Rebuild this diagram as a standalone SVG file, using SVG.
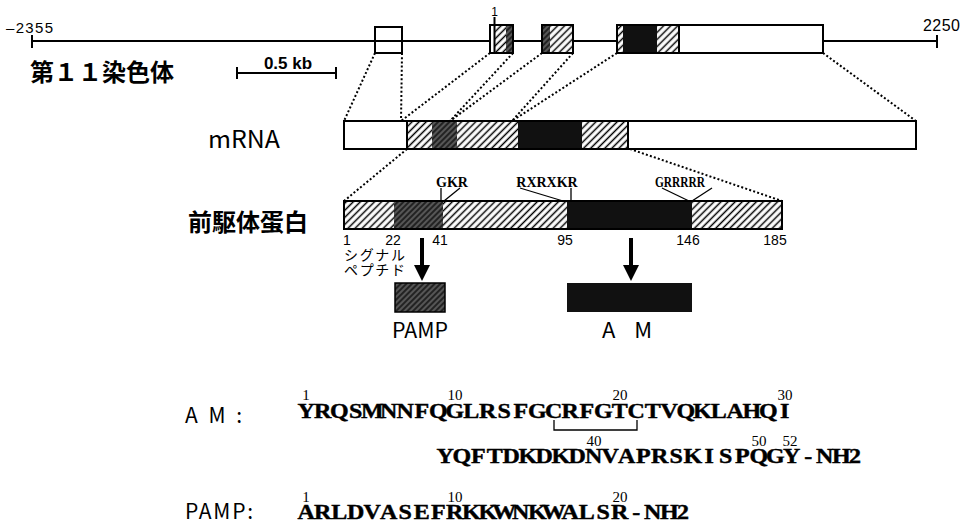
<svg xmlns="http://www.w3.org/2000/svg" width="962" height="525" viewBox="0 0 962 525">
<style>
.ln{stroke:#000;stroke-width:2;fill:none}
.box{stroke:#000;stroke-width:2;fill:none}
.dot{stroke:#000;stroke-width:2;fill:none;stroke-dasharray:2 2.2}
.thin{stroke:#000;stroke-width:1.3;fill:none}
.sans{font-family:"Liberation Sans",Arial,sans-serif;fill:#000}
.jp{font-family:"Noto Sans CJK JP","Noto Sans",sans-serif;fill:#000}
.seq{font-family:"Liberation Serif","Times New Roman",serif;font-weight:bold;font-size:20px;fill:#000;stroke:#000;stroke-width:0.4;text-anchor:middle}
.num{font-family:"Liberation Serif","Times New Roman",serif;font-size:15px;fill:#000;text-anchor:middle}
.pn{font-family:"Liberation Sans",Arial,sans-serif;font-size:14px;fill:#000;text-anchor:middle}
.site{font-family:"Liberation Serif","Times New Roman",serif;font-weight:bold;font-size:14px;fill:#000;text-anchor:middle}
</style>
<defs>
<pattern id="hatch" width="5" height="5" patternUnits="userSpaceOnUse" patternTransform="rotate(45)">
<rect width="5" height="5" fill="#fff"/>
<line x1="2.5" y1="0" x2="2.5" y2="5" stroke="#000" stroke-width="1.5"/>
</pattern>
<pattern id="dhatch" width="4" height="4" patternUnits="userSpaceOnUse" patternTransform="rotate(45)">
<rect width="4" height="4" fill="#222"/>
<line x1="2" y1="0" x2="2" y2="4" stroke="#8a8a8a" stroke-width="1"/>
</pattern>
</defs>
<rect width="962" height="525" fill="#fff"/>

<g id="chromosome">
<line class="ln" x1="32" y1="41" x2="937" y2="41"/>
<line class="ln" x1="32" y1="35" x2="32" y2="48"/>
<line class="ln" x1="937" y1="35" x2="937" y2="48"/>
<text class="sans" x="6" y="33" font-size="15" textLength="47" lengthAdjust="spacing">–2355</text>
<text class="sans" x="923" y="31" font-size="16" textLength="37" lengthAdjust="spacing">2250</text>
<text class="jp" x="30" y="81" font-size="24" font-weight="bold">第１１染色体</text>
</g>

<g id="exon1">
<rect x="375" y="27" width="27" height="26" fill="#fff" class="box"/>
</g>
<g id="exon2">
<rect x="490" y="25" width="23" height="28" fill="#fff"/>
<rect x="495" y="25" width="11" height="28" fill="url(#hatch)"/>
<rect x="506" y="25" width="7" height="28" fill="url(#dhatch)"/>
<line class="ln" x1="494.5" y1="17" x2="494.5" y2="53"/>
<rect x="490" y="25" width="23" height="28" class="box"/>
<text class="sans" x="494.5" y="16" font-size="12" text-anchor="middle">1</text>
</g>
<g id="exon3">
<rect x="542" y="25" width="8" height="28" fill="url(#dhatch)"/>
<rect x="550" y="25" width="23" height="28" fill="url(#hatch)"/>
<rect x="542" y="25" width="31" height="28" class="box"/>
</g>
<g id="exon4">
<rect x="617" y="25" width="6" height="28" fill="url(#hatch)"/>
<rect x="623" y="25" width="34" height="28" fill="#111"/>
<rect x="657" y="25" width="22" height="28" fill="url(#hatch)"/>
<rect x="679" y="25" width="144" height="28" fill="#fff"/>
<line class="ln" x1="679" y1="25" x2="679" y2="53"/>
<rect x="617" y="25" width="206" height="28" class="box"/>
</g>

<g id="scale-bar">
<line class="ln" x1="237" y1="73" x2="336" y2="73"/>
<line class="ln" x1="237" y1="67" x2="237" y2="79"/>
<line class="ln" x1="336" y1="67" x2="336" y2="79"/>
<text class="sans" x="288" y="69" font-size="17" font-weight="bold" text-anchor="middle">0.5 kb</text>
</g>

<g id="mrna">
<text class="jp" x="208" y="148" font-size="24" textLength="72" lengthAdjust="spacingAndGlyphs">mRNA</text>
<rect x="344" y="121" width="63" height="28" fill="#fff"/>
<rect x="407" y="121" width="25" height="28" fill="url(#hatch)"/>
<rect x="432" y="121" width="25" height="28" fill="url(#dhatch)"/>
<rect x="457" y="121" width="61" height="28" fill="url(#hatch)"/>
<rect x="518" y="121" width="64" height="28" fill="#111"/>
<rect x="582" y="121" width="46" height="28" fill="url(#hatch)"/>
<rect x="628" y="121" width="288" height="28" fill="#fff"/>
<line class="ln" x1="407" y1="121" x2="407" y2="149"/>
<line class="ln" x1="628" y1="121" x2="628" y2="149"/>
<rect x="344" y="121" width="572" height="28" class="box"/>
</g>

<g id="precursor">
<text class="jp" x="188" y="231" font-size="24" font-weight="bold">前駆体蛋白</text>
<rect x="344" y="201" width="50" height="28" fill="url(#hatch)"/>
<rect x="394" y="201" width="49" height="28" fill="url(#dhatch)"/>
<rect x="443" y="201" width="124" height="28" fill="url(#hatch)"/>
<rect x="567" y="201" width="125" height="28" fill="#111"/>
<rect x="692" y="201" width="90" height="28" fill="url(#hatch)"/>
<rect x="344" y="201" width="438" height="28" class="box"/>
<text class="pn" x="347" y="245">1</text>
<text class="pn" x="393" y="245">22</text>
<text class="pn" x="440" y="245">41</text>
<text class="pn" x="565" y="245">95</text>
<text class="pn" x="688" y="245">146</text>
<text class="pn" x="775" y="245">185</text>
<text class="jp" x="344" y="260" font-size="14" textLength="61" lengthAdjust="spacing">シグナル</text>
<text class="jp" x="344" y="275" font-size="14" textLength="61" lengthAdjust="spacing">ペプチド</text>
<text class="site" x="452" y="187">GKR</text>
<text class="site" x="547" y="187">RXRXKR</text>
<text class="site" x="680" y="187" textLength="50" lengthAdjust="spacingAndGlyphs">GRRRRR</text>
</g>

<g id="pamp-box">
<rect x="395" y="283" width="50" height="29" fill="url(#dhatch)" stroke="#000" stroke-width="1.5"/>
<text class="jp" x="420" y="338" font-size="21" text-anchor="middle" textLength="56" lengthAdjust="spacingAndGlyphs">PAMP</text>
</g>
<g id="am-box">
<rect x="567" y="283" width="125" height="29" fill="#111"/>
<text class="jp" x="627" y="338" font-size="22" text-anchor="middle" textLength="50" lengthAdjust="spacing">A M</text>
</g>

<g id="connectors">
<line class="dot" x1="375" y1="53" x2="344" y2="121"/>
<line class="dot" x1="402" y1="53" x2="401" y2="121"/>
<line class="dot" x1="490" y1="53" x2="401" y2="121"/>
<line class="dot" x1="513" y1="53" x2="450" y2="121"/>
<line class="dot" x1="542" y1="53" x2="450" y2="121"/>
<line class="dot" x1="573" y1="53" x2="512" y2="121"/>
<line class="dot" x1="617" y1="53" x2="512" y2="121"/>
<line class="dot" x1="823" y1="53" x2="916" y2="121"/>
<line class="dot" x1="407" y1="149" x2="344" y2="201"/>
<line class="dot" x1="630" y1="149" x2="782" y2="201"/>
<line class="thin" x1="441" y1="188" x2="441" y2="201"/>
<line class="thin" x1="460" y1="188" x2="444" y2="201"/>
<line class="thin" x1="520" y1="188" x2="563" y2="201"/>
<line class="thin" x1="571" y1="188" x2="571" y2="201"/>
<line class="thin" x1="662" y1="188" x2="689" y2="201"/>
<line class="thin" x1="712" y1="188" x2="692" y2="201"/>
<rect x="420" y="238" width="4" height="29" fill="#000"/>
<polygon points="414,265 430,265 422,281" fill="#000"/>
<rect x="629" y="238" width="4" height="29" fill="#000"/>
<polygon points="623,265 639,265 631,281" fill="#000"/>
</g>

<g id="seq-am">
<text class="jp" x="185" y="423" font-size="21" textLength="57" lengthAdjust="spacing">A M :</text>
<text class="num" x="306" y="400">1</text>
<text class="num" x="455" y="400">10</text>
<text class="num" x="620" y="400">20</text>
<text class="num" x="785" y="400">30</text>
<text class="seq" transform="scale(1.2 1)" y="418" x="255.21 268.96 282.71 296.46 310.21 323.96 337.71 351.46 365.21 378.96 392.71 406.46 420.21 433.96 447.71 461.46 475.21 488.96 502.71 516.46 530.21 543.96 557.71 571.46 585.21 598.96 612.71 626.46 640.21 653.96">YRQSMNNFQGLRSFGCRFGTCTVQKLAHQI</text>
<path class="thin" d="M554,420 V430 H637 V420"/>
<text class="num" x="594" y="446">40</text>
<text class="num" x="759" y="446">50</text>
<text class="num" x="790" y="446">52</text>
<text class="seq" transform="scale(1.2 1)" y="463" x="371.04 384.79 398.54 412.29 426.04 439.79 453.54 467.29 481.04 494.79 508.54 522.29 536.04 549.79 563.54 577.29 591.04 604.79 618.54 632.29 646.04 659.79 673.54 687.29 701.04">YQFTDKDKDNVAPRSKISPQGY-NH</text>
<text class="seq" transform="scale(1.2 1)" x="712.5" y="463" font-size="15">2</text>
</g>

<g id="seq-pamp">
<text class="jp" x="185" y="519" font-size="21" textLength="68" lengthAdjust="spacing">PAMP:</text>
<text class="num" x="306" y="502">1</text>
<text class="num" x="455" y="502">10</text>
<text class="num" x="620" y="502">20</text>
<text class="seq" transform="scale(1.2 1)" y="519" x="255.21 268.96 282.71 296.46 310.21 323.96 337.71 351.46 365.21 378.96 392.71 406.46 420.21 433.96 447.71 461.46 475.21 488.96 502.71 516.46 530.21 543.96 557.71">ARLDVASEFRKKWNKWALSR-NH</text>
<text class="seq" transform="scale(1.2 1)" x="569.17" y="519" font-size="15">2</text>
</g>
</svg>
